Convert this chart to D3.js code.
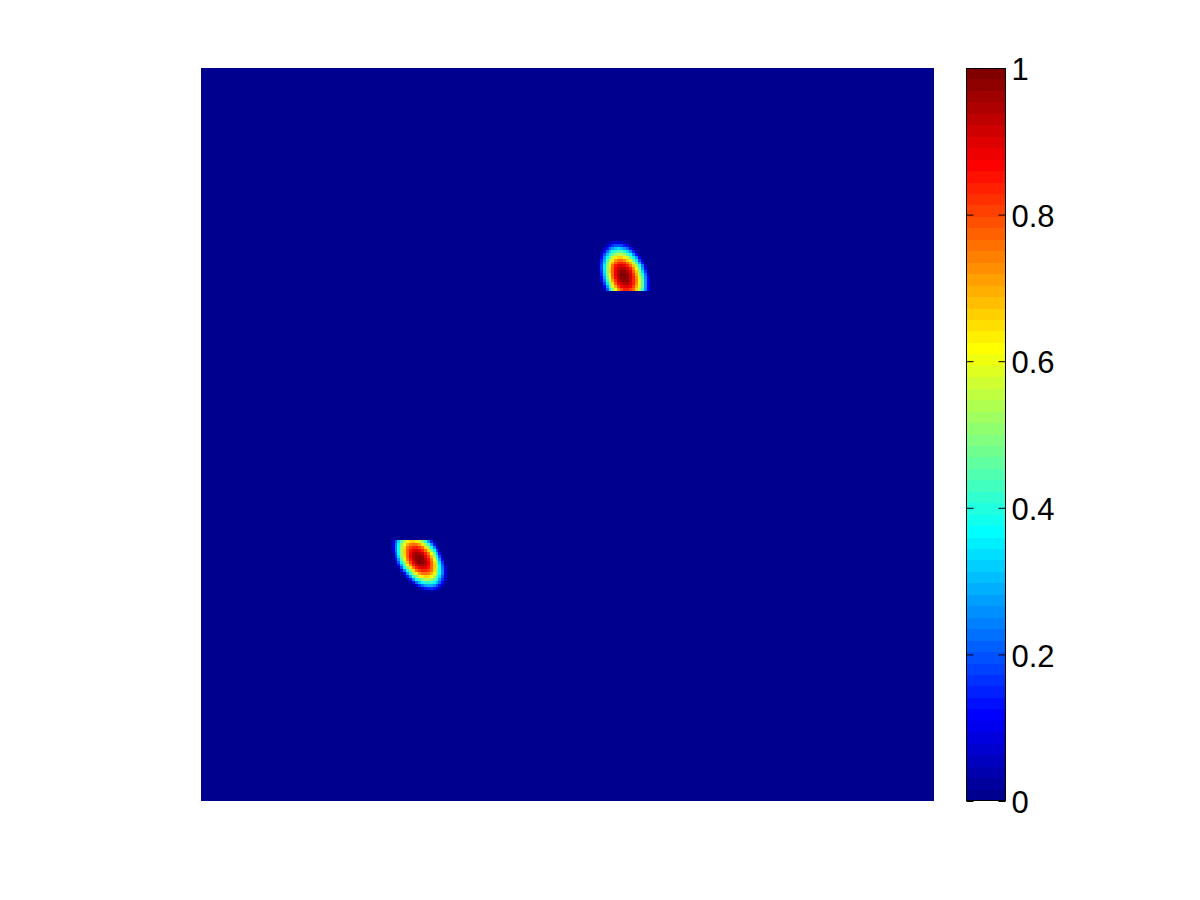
<!DOCTYPE html>
<html>
<head>
<meta charset="utf-8">
<script src="https://cdn.jsdelivr.net/npm/d3@7"></script>
<style>
  body { margin: 0; background: #fff; }
</style>
</head>
<body>
<div id="container"></div>
<script>
var width = 1200,
    height = 900,
    gridSize = 250,
    plot = { left: 201, top: 68, size: 733 },
    bar = { left: 966, top: 68, width: 40, height: 733 };

// colorbar ticks
var colorTicks = [0, 0.2, 0.4, 0.6, 0.8, 1];
var colorTickLabels = ["0", "0.2", "0.4", "0.6", "0.8", "1"];

// upper blob (values in %), first cell = grid column 135, row 59, cut off at the bottom
var blob1Col0 = 135, blob1Row0 = 59;
var blob1 = [
  [0,0,0,0,4,7,9,9,7,4,0,0,0,0,0,0,0,0,0],
  [0,0,0,6,12,17,20,20,18,14,9,2,0,0,0,0,0,0,0],
  [0,0,6,14,22,28,31,33,31,27,21,13,4,0,0,0,0,0,0],
  [0,2,12,23,32,39,43,45,44,40,33,25,15,4,0,0,0,0,0],
  [0,7,19,30,40,48,53,56,55,52,46,37,26,14,3,0,0,0,0],
  [0,11,25,37,48,57,63,66,66,63,57,48,37,25,11,0,0,0,0],
  [2,15,29,43,55,64,71,75,75,73,67,59,48,35,20,6,0,0,0],
  [3,17,32,47,60,70,78,82,84,82,76,68,57,44,29,14,1,0,0],
  [4,18,35,50,64,75,83,88,90,89,84,76,66,53,38,22,6,0,0],
  [3,18,35,51,65,77,86,92,95,94,90,83,73,60,45,28,12,0,0],
  [2,17,34,51,66,78,88,94,98,98,94,88,78,66,51,34,17,2,0],
  [1,15,32,49,64,78,88,95,99,100,97,91,82,70,55,39,22,6,0],
  [0,12,29,46,62,75,86,94,98,100,98,92,84,73,59,43,25,9,0],
  [0,8,24,41,57,71,82,91,96,98,97,92,84,74,60,45,28,11,0],
  [0,3,18,35,51,65,77,86,92,95,94,90,83,73,60,45,28,12,0],
  [0,0,12,28,44,58,70,80,86,90,90,86,80,70,58,44,28,12,0],
  [0,0,5,20,35,50,62,72,79,83,83,81,75,66,55,41,26,11,0]
];

// lower blob (values in %), first cell = grid column 65, row 161, cut off at the top
var blob2Col0 = 65, blob2Row0 = 161;
var blob2 = [
  [7,20,33,45,54,61,65,66,64,59,51,41,28,15,2,0,0,0,0],
  [8,22,37,50,60,69,74,76,75,71,64,54,42,28,13,1,0,0,0],
  [9,24,39,53,65,75,81,84,84,81,75,65,53,39,24,9,0,0,0],
  [7,23,39,54,67,78,85,90,91,89,84,76,65,51,36,19,4,0,0],
  [4,19,36,52,67,78,87,93,96,95,91,84,74,61,46,29,13,0,0],
  [1,16,33,50,65,78,88,95,98,99,96,89,80,68,53,37,20,4,0],
  [0,10,27,44,60,74,85,93,98,100,98,93,85,74,60,44,27,10,0],
  [0,4,20,37,53,68,80,89,96,99,98,95,88,78,65,50,33,16,1],
  [0,0,13,29,46,61,74,84,91,95,96,93,87,78,67,52,36,19,4],
  [0,0,4,19,36,51,65,76,84,89,91,90,85,78,67,54,39,23,7],
  [0,0,0,9,24,39,53,65,75,81,84,84,81,75,65,53,39,24,9],
  [0,0,0,0,12,27,41,53,63,71,75,76,74,69,61,51,38,24,9],
  [0,0,0,0,2,15,28,41,51,59,64,66,65,61,54,45,33,20,7],
  [0,0,0,0,0,3,14,26,37,45,51,54,54,52,46,38,28,17,5],
  [0,0,0,0,0,0,2,12,22,30,37,41,42,41,37,30,22,12,2],
  [0,0,0,0,0,0,0,1,8,16,23,27,29,29,26,20,13,5,0],
  [0,0,0,0,0,0,0,0,0,3,8,13,15,16,14,10,5,0,0],
  [0,0,0,0,0,0,0,0,0,0,0,1,3,4,3,1,0,0,0]
];

// matlab jet(64)
function jetU(k) {
  if (k < 1 || k > 47) return 0;
  if (k <= 16) return k / 16;
  if (k <= 31) return 1;
  return (48 - k) / 16;
}
function jetColor(p) {
  var r = p >= 25 ? jetU(p - 24) : 0,
      g = (p >= 9 && p <= 55) ? jetU(p - 8) : 0,
      b = p <= 39 ? jetU(p + 8) : 0;
  return d3.rgb(r * 255, g * 255, b * 255).toString();
}
var jet = d3.range(1, 65).map(jetColor);
var color = d3.scaleQuantize().domain([0, 1]).range(jet);

var svg = d3.select("#container")
            .append("svg")
            .attr("width", width)
            .attr("height", height);

var scale_x = d3.scaleLinear().domain([0, gridSize]).range([plot.left, plot.left + plot.size]),
    scale_y = d3.scaleLinear().domain([0, gridSize]).range([plot.top, plot.top + plot.size]);

var g = svg.append("g").attr("shape-rendering", "crispEdges");

// the zero field
g.append("rect")
  .attr("x", scale_x(0))
  .attr("y", scale_y(0))
  .attr("width", scale_x(gridSize) - scale_x(0))
  .attr("height", scale_y(gridSize) - scale_y(0))
  .attr("fill", color(0));

function toCells(blob, col0, row0) {
  var out = [];
  blob.forEach(function(row, j) {
    row.forEach(function(v, i) {
      out.push({ c: col0 + i, r: row0 + j, v: v / 100 });
    });
  });
  return out;
}

var cells = toCells(blob1, blob1Col0, blob1Row0).concat(toCells(blob2, blob2Col0, blob2Row0));

g.selectAll(".cell")
  .data(cells)
  .enter()
  .append("rect")
  .attr("class", "cell")
  .attr("x", function(d) { return scale_x(d.c); })
  .attr("y", function(d) { return scale_y(d.r); })
  .attr("width", function(d) { return scale_x(d.c + 1) - scale_x(d.c); })
  .attr("height", function(d) { return scale_y(d.r + 1) - scale_y(d.r); })
  .attr("fill", function(d) { return color(d.v); });

// colorbar
var scale_c = d3.scaleLinear().domain([0, 1]).range([bar.top + bar.height, bar.top]);

var cb = svg.append("g");
cb.append("g").attr("shape-rendering", "crispEdges")
  .selectAll("rect")
  .data(jet)
  .enter()
  .append("rect")
  .attr("x", bar.left)
  .attr("y", function(d, k) { return scale_c((k + 1) / 64); })
  .attr("width", bar.width)
  .attr("height", function(d, k) { return scale_c(k / 64) - scale_c((k + 1) / 64); })
  .attr("fill", function(d) { return d; });

cb.append("rect")
  .attr("x", bar.left + 0.5)
  .attr("y", bar.top + 0.5)
  .attr("width", bar.width - 1)
  .attr("height", bar.height - 1)
  .attr("fill", "none")
  .attr("stroke", "#000")
  .attr("stroke-width", 1);

var right_axis = d3.axisRight(scale_c)
                   .tickValues(colorTicks)
                   .tickFormat(function(d, i) { return colorTickLabels[i]; })
                   .tickSizeInner(-7)
                   .tickSizeOuter(0)
                   .tickPadding(6);

var left_axis = d3.axisLeft(scale_c)
                  .tickValues(colorTicks)
                  .tickFormat("")
                  .tickSizeInner(-7)
                  .tickSizeOuter(0);

var ra = cb.append("g")
  .attr("transform", "translate(" + (bar.left + bar.width - 0.5) + ",0)")
  .call(right_axis);
var la = cb.append("g")
  .attr("transform", "translate(" + (bar.left + 0.5) + ",0)")
  .call(left_axis);

[ra, la].forEach(function(a) {
  a.select(".domain").remove();
  a.selectAll("line").attr("stroke", "#000");
});
ra.selectAll("text")
  .attr("font-family", "'Liberation Sans', Arial, sans-serif")
  .attr("font-size", 31)
  .attr("fill", "#000")
  .attr("dy", "0.38em");
</script>
</body>
</html>
